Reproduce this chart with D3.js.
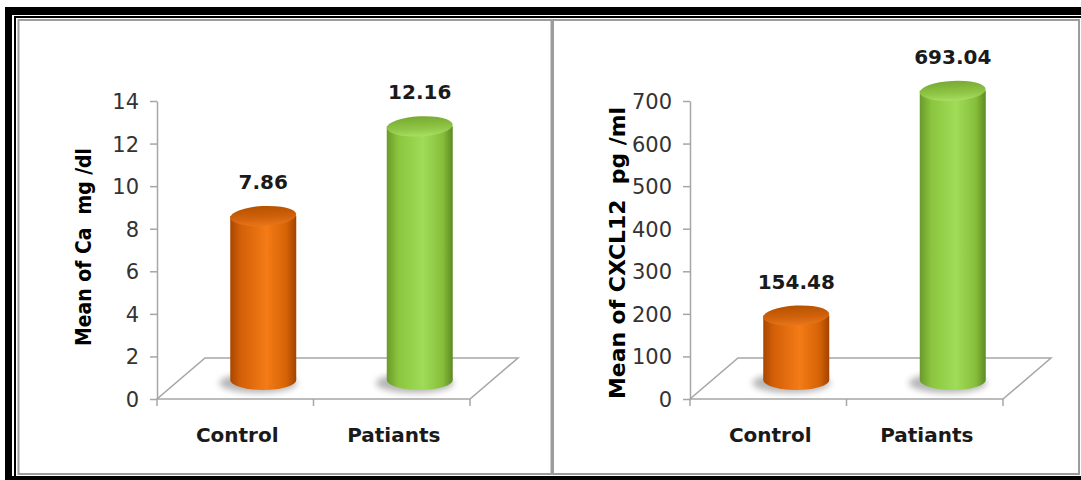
<!DOCTYPE html>
<html>
  <head>
    <title>Ca and CXCL12</title>
    <script src="https://d3js.org/d3.v7.min.js"></script>
    <style>
      body { margin: 0; background: #fff; }
      text { font-family: "DejaVu Sans", sans-serif; }
      .axis .domain, .axis .tick line { stroke: #a6a6a6; stroke-width: 1.5px; }
      .axis .tick text { font-size: 21px; fill: #333; font-family: "DejaVu Sans", sans-serif; }
      .cat { font-size: 20px; font-weight: bold; fill: #1a1a1a; text-anchor: middle; }
      .val { font-size: 20px; font-weight: bold; fill: #1a1a1a; text-anchor: middle; }
      .ytitle { font-size: 21px; font-weight: bold; fill: #000; text-anchor: middle; white-space: pre; }
    </style>
  </head>
  <body>
    <svg width="1081" height="480"></svg>
    <script>
      const categories = ["Control", "Patiants"];
      const caValues = [7.86, 12.16];
      const cxclValues = [154.48, 693.04];
      const caTicks = [0, 2, 4, 6, 8, 10, 12, 14];
      const cxclTicks = [0, 100, 200, 300, 400, 500, 600, 700];
      const caTitle = "Mean of Ca  mg /dl";
      const cxclTitle = "Mean of CXCL12  pg /ml";

      const svg = d3.select("svg");
      const defs = svg.append("defs");

      // frame
      svg.append("rect").attr("x", 5).attr("y", 7).attr("width", 1200).attr("height", 500).attr("fill", "#000");
      svg.append("rect").attr("x", 12).attr("y", 15).attr("width", 1200).attr("height", 461).attr("fill", "#fff");
      svg.append("rect").attr("x", 15).attr("y", 17).attr("width", 1200).attr("height", 500)
        .attr("fill", "none").attr("stroke", "#000").attr("stroke-width", 2);
      [[18.5, 533], [553, 526]].forEach(([x, w]) => {
        svg.append("rect").attr("x", x).attr("y", 20).attr("width", w).attr("height", 454)
          .attr("fill", "#fff").attr("stroke", "#9c9c9c").attr("stroke-width", 2);
      });

      // gradients
      function hGrad(id, stops) {
        const g = defs.append("linearGradient").attr("id", id).attr("x1", 0).attr("x2", 1).attr("y1", 0).attr("y2", 0);
        stops.forEach(([o, c]) => g.append("stop").attr("offset", o).attr("stop-color", c));
      }
      function vGrad(id, stops) {
        const g = defs.append("linearGradient").attr("id", id).attr("x1", 0).attr("x2", 0).attr("y1", 0).attr("y2", 1);
        stops.forEach(([o, c]) => g.append("stop").attr("offset", o).attr("stop-color", c));
      }
      hGrad("orangeBody", [[0, "#a94600"], [0.15, "#d25f08"], [0.55, "#f47b16"], [0.85, "#d56306"], [1, "#a34300"]]);
      vGrad("orangeTop", [[0, "#b65200"], [0.6, "#d2620c"], [1, "#e8771a"]]);
      hGrad("greenBody", [[0, "#6a9a2a"], [0.18, "#8cc63f"], [0.55, "#a0dc58"], [0.85, "#86be3a"], [1, "#5e8a22"]]);
      vGrad("greenTop", [[0, "#77aa32"], [0.6, "#8fc545"], [1, "#a8de62"]]);
      defs.append("filter").attr("id", "blur").attr("x", "-50%").attr("y", "-50%").attr("width", "200%").attr("height", "200%")
        .append("feGaussianBlur").attr("stdDeviation", 3);

      const fills = [["orangeBody", "orangeTop"], ["greenBody", "greenTop"]];

      function chart(opts) {
        const x0 = opts.x0, floorW = 313, yBottom = 399, yTop = 101;
        const dx = 48, dy = 41;
        const max = d3.max(opts.ticks);
        const g = svg.append("g");

        const yFront = d3.scaleLinear().domain([0, max]).range([yBottom, yTop]);
        const barBase = 380;
        const yBar = d3.scaleLinear().domain([0, max]).range([barBase, barBase - (yBottom - yTop) * 0.98]);
        const xBand = d3.scaleBand().domain(categories).range([x0, x0 + floorW]);

        // floor
        g.append("path")
          .attr("d", `M${x0},${yBottom}L${x0 + floorW},${yBottom}L${x0 + floorW + dx},${yBottom - dy}L${x0 + dx},${yBottom - dy}Z`)
          .attr("fill", "none").attr("stroke", "#a6a6a6").attr("stroke-width", 1.5);

        // y axis
        g.append("g").attr("class", "axis")
          .attr("transform", `translate(${x0},0)`)
          .call(d3.axisLeft(yFront).tickValues(opts.ticks).tickSize(7).tickSizeOuter(0).tickPadding(11))
          .call(a => a.selectAll(".tick text").attr("dy", "0.36em"));

        // category separator ticks
        const seps = categories.map(c => xBand(c)).concat([x0 + floorW]);
        g.selectAll(".sep").data(seps).enter().append("line")
          .attr("x1", d => d).attr("x2", d => d)
          .attr("y1", yBottom).attr("y2", yBottom + 7)
          .attr("stroke", "#a6a6a6").attr("stroke-width", 1.5);

        // category labels
        g.selectAll(".cat").data(categories).enter().append("text")
          .attr("class", "cat")
          .attr("x", d => xBand(d) + xBand.bandwidth() / 2 + 2)
          .attr("y", 442)
          .text(d => d);

        // cylinders
        const bw = 66, rx = bw / 2, ry = 10;
        const bars = g.selectAll(".bar").data(opts.values).enter().append("g");
        bars.each(function (v, i) {
          const b = d3.select(this);
          const cx = xBand(categories[i]) + xBand.bandwidth() / 2 + 28;
          const top = yBar(v);
          b.append("ellipse")
            .attr("cx", cx - 5).attr("cy", barBase + 3)
            .attr("rx", rx + 6).attr("ry", ry)
            .attr("fill", "#7a7a7a").attr("opacity", 0.55)
            .attr("filter", "url(#blur)");
          b.append("path")
            .attr("d", `M${cx - rx},${top}L${cx - rx},${barBase}A${rx},${ry} 0 0 0 ${cx + rx},${barBase}L${cx + rx},${top}Z`)
            .attr("fill", `url(#${fills[i][0]})`);
          b.append("ellipse")
            .attr("cx", cx).attr("cy", top)
            .attr("rx", rx).attr("ry", ry)
            .attr("transform", `rotate(-3,${cx},${top})`)
            .attr("fill", `url(#${fills[i][1]})`);
          b.append("text")
            .attr("class", "val")
            .attr("x", cx)
            .attr("y", top - 34)
            .attr("dy", "0.35em")
            .text(v.toFixed(2));
        });

        // y title
        g.append("text")
          .attr("class", "ytitle")
          .attr("transform", `translate(${opts.titleX},${opts.titleY}) rotate(-90)`)
          .attr("dy", "0.35em")
          .attr("textLength", opts.titleLen)
          .attr("lengthAdjust", "spacingAndGlyphs")
          .text(opts.title);
      }

      chart({ x0: 157, values: caValues, ticks: caTicks, title: caTitle, titleX: 84, titleY: 247, titleLen: 198 });
      chart({ x0: 690, values: cxclValues, ticks: cxclTicks, title: cxclTitle, titleX: 618, titleY: 253, titleLen: 292 });
    </script>
  </body>
</html>
